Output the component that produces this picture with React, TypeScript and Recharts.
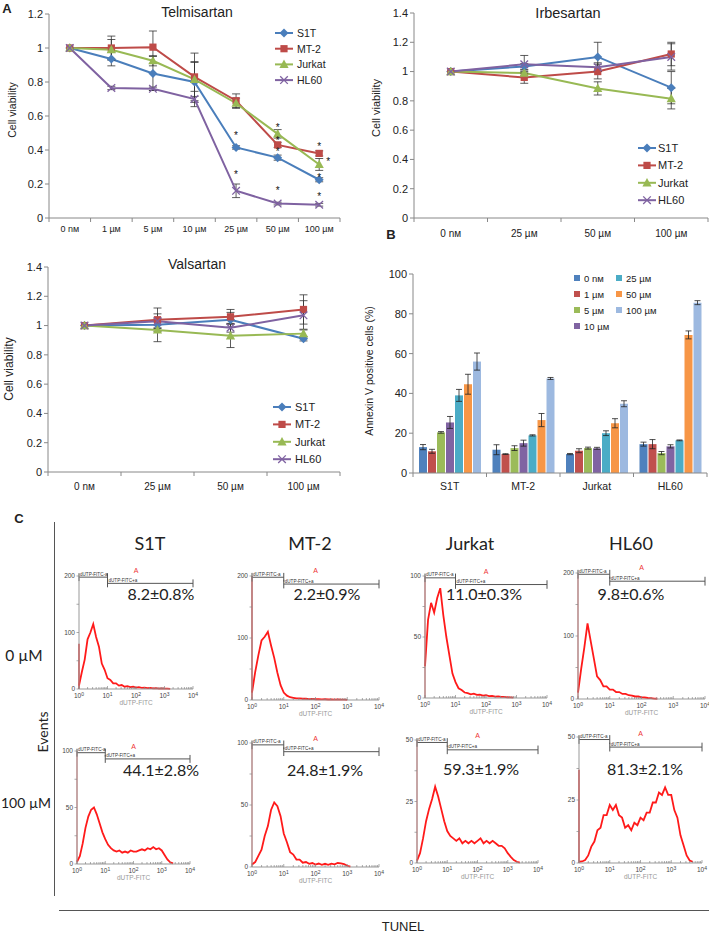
import React from "react";
import { ComposedChart, Line, Bar, XAxis, YAxis, ErrorBar, Scatter, ReferenceLine } from "recharts";

const ARIAL = "'Liberation Sans', Arial, sans-serif";
const LATO = "Lato, 'Open Sans', sans-serif";

// ---------- A: cell viability (fraction of control)
const telmiDoses = ["0 nм", "1 µм", "5 µм", "10 µм", "25 µм", "50 µм", "100 µм"];
const telmiS1T = [1, 0.935, 0.85, 0.8, 0.415, 0.355, 0.225];
const telmiMT2 = [1, 1.0, 1.005, 0.83, 0.69, 0.43, 0.38];
const telmiJurkat = [1, 0.99, 0.925, 0.815, 0.675, 0.495, 0.315];
const telmiHL60 = [1, 0.765, 0.76, 0.7, 0.16, 0.085, 0.078];
const telmiS1TErr = [0, 0.04, 0.1, 0.12, 0.01, 0.015, 0.012];
const telmiMT2Err = [0, 0.07, 0.095, 0.14, 0.04, 0.015, 0.015];
const telmiJurkatErr = [0, 0.06, 0.03, 0.1, 0.03, 0.025, 0.035];
const telmiHL60Err = [0, 0.01, 0.01, 0.045, 0.04, 0.008, 0.008];
// significance marks (*), one column per stack position
const telmiStarA = [null, null, null, null, 0.496, 0.543, 0.427];
const telmiStarB = [null, null, null, null, 0.265, 0.465, 0.25];
const telmiStarC = [null, null, null, null, null, 0.4, 0.137];
const telmiStarD = [null, null, null, null, null, 0.17, null];
const telmiStarSide = [null, null, null, null, null, null, 0.343];

const irbeDoses = ["0 nм", "25 µм", "50 µм", "100 µм"];
const irbeS1T = [1, 1.035, 1.1, 0.89];
const irbeMT2 = [1, 0.96, 1.0, 1.12];
const irbeJurkat = [1, 0.99, 0.885, 0.815];
const irbeHL60 = [1, 1.05, 1.03, 1.1];
const irbeS1TErr = [0, 0.02, 0.1, 0.11];
const irbeMT2Err = [0, 0.04, 0.05, 0.08];
const irbeJurkatErr = [0, 0.02, 0.045, 0.07];
const irbeHL60Err = [0, 0.06, 0.03, 0.09];

const valsDoses = ["0 nм", "25 µм", "50 µм", "100 µм"];
const valsS1T = [1, 1.005, 1.04, 0.91];
const valsMT2 = [1, 1.04, 1.06, 1.11];
const valsJurkat = [1, 0.97, 0.93, 0.945];
const valsHL60 = [1, 1.03, 0.985, 1.07];
const valsS1TErr = [0, 0.02, 0.05, 0.015];
const valsMT2Err = [0, 0.08, 0.05, 0.1];
const valsJurkatErr = [0, 0.08, 0.08, 0.03];
const valsHL60Err = [0, 0.05, 0.03, 0.1];

const viaTicks12 = [0, 0.2, 0.4, 0.6, 0.8, 1, 1.2];
const viaTicks14 = [0, 0.2, 0.4, 0.6, 0.8, 1, 1.2, 1.4];

// ---------- B: Annexin V positive cells (%)
const cellLines = ["S1T", "MT-2", "Jurkat", "HL60"];
const annex0 = [13, 11.7, 9.5, 14.5];
const annex1 = [10.9, 9.5, 11.2, 14.5];
const annex5 = [20.4, 12.5, 12.5, 10];
const annex10 = [25.4, 15, 12.4, 13.4];
const annex25 = [39, 18.9, 20, 16.4];
const annex50 = [44.6, 26.6, 25, 69.4];
const annex100 = [56, 47.5, 34.8, 85.6];
const annex0Err = [1.3, 2.5, 0.3, 1];
const annex1Err = [1, 0.2, 1, 2.3];
const annex5Err = [0.4, 1.2, 0.5, 0.8];
const annex10Err = [3, 1.5, 0.5, 0.8];
const annex25Err = [3, 0.3, 1.2, 0.2];
const annex50Err = [5, 3.3, 2.3, 2];
const annex100Err = [4.3, 0.5, 1.5, 1];
const annexTicks = [0, 20, 40, 60, 80, 100];

// ---------- C: TUNEL histograms (events vs log10 dUTP-FITC)
const histX = [0, 0.1, 0.2, 0.3, 0.4, 0.5, 0.6, 0.7, 0.8, 0.9, 1, 1.1, 1.2, 1.3, 1.4, 1.5, 1.6, 1.7, 1.8, 1.9, 2,
  2.1, 2.2, 2.3, 2.4, 2.5, 2.6, 2.7, 2.8, 2.9, 3, 3.1, 3.2, 3.3, 3.4, 3.5, 3.6, 3.7, 3.8, 3.9, 4];
const s1t0 = [6, 30, 52, 88, 100, 115, 92, 75, 45, 34, 19, 16, 10, 10, 6, 7, 4, 5, 3.5, 4, 2.5, 3.2, 2, 2.5, 1.5, 2, 1.2, 1.5, 0.8, 1.1, 0.6, 0.7, 0.3];
const mt20 = [12, 45, 72, 96, 102, 110, 88, 68, 44, 24, 12, 7, 4.5, 3.5, 2.5, 2.5, 2, 2, 1.5, 1.8, 1.2, 1.5, 1, 1.2, 0.8, 1, 0.7, 0.8, 0.5, 0.6, 0.3];
const jurkat0 = [26, 64, 78, 70, 82, 90, 68, 50, 35, 20, 13, 8, 6.5, 4.5, 4, 3, 3.5, 2.5, 2.8, 2, 2.3, 1.6, 1.8, 1.2, 1.4, 0.9, 1, 0.6, 0.5, 0.3];
const hl600 = [10, 48, 82, 120, 92, 64, 36, 30, 20, 20, 15, 15, 11, 11, 8, 8, 6, 5.5, 4, 4, 2.6, 2.4, 1.6, 1.4, 0.7, 0.4];
const s1t100 = [2, 7, 18, 32, 42, 48, 50, 44, 36, 28, 22, 17, 14, 12, 11, 12, 10, 11, 10, 12, 11, 11, 12, 13, 12, 14, 13, 15, 13, 14, 12, 8, 4, 1.5, 0.5];
const mt2100 = [2, 4, 9, 14, 25, 33, 46, 52, 49, 41, 27, 20, 12, 10, 6, 6, 3.5, 4, 2.5, 3.2, 2, 2.8, 1.8, 2.6, 1.8, 2.7, 2.2, 3.2, 3, 2.4, 1, 0.3];
const jurkat100 = [1, 4, 10, 17, 22, 26, 31, 27, 22, 17, 13, 11, 10, 9, 10, 8, 9, 8, 9, 8, 9, 10, 8, 9, 8, 9, 8, 7, 7, 6, 4, 2.5, 1.2, 0.5, 0.2];
const hl60100 = [0.5, 0.6, 1.2, 3, 6.5, 8.5, 13, 14, 19, 19, 23, 21, 23, 19, 18, 14, 15, 13, 16, 15, 18, 17, 20, 20, 24, 24, 28, 27, 30, 27, 27, 21, 18, 11, 7, 3, 1, 0.5];
const yTicks200 = [0, 50, 100, 150, 200];
const yTicks100 = [0, 25, 50, 75, 100];
const yTicks50 = [0, 12.5, 25, 37.5, 50];
// gate levels [dUTP-FITC-a, dUTP-FITC+a]
const gates200 = [198, 187];
const gates100 = [98.5, 93];
const gates50 = [49, 46];
const pctLabels = ["8.2±0.8%", "2.2±0.9%", "11.0±0.3%", "9.8±0.6%", "44.1±2.8%", "24.8±1.9%", "59.3±1.9%", "81.3±2.1%"];

const histTicks: number[] = [];
for (let d = 0; d < 4; d++) for (let k = 1; k < 10; k++) histTicks.push(d + Math.log10(k));
histTicks.push(4);

const seriesStyle = [
  { key: "S1T", name: "S1T", color: "#4a7ebb", mark: "diamond" },
  { key: "MT2", name: "MT-2", color: "#be4b48", mark: "square" },
  { key: "Jurkat", name: "Jurkat", color: "#98b954", mark: "triangle" },
  { key: "HL60", name: "HL60", color: "#7f62a1", mark: "cross" },
];
const barStyle = [
  { key: "c0", color: "#4f81bd" },
  { key: "c1", color: "#c0504d" },
  { key: "c5", color: "#9bbb59" },
  { key: "c10", color: "#8064a2" },
  { key: "c25", color: "#4bacc6" },
  { key: "c50", color: "#f79646" },
  { key: "c100", color: "#9db9e0" },
];

function Mark({ cx, cy, kind, color, s = 1 }: any) {
  if (cx == null || cy == null || isNaN(cy)) return <g />;
  if (kind === "diamond")
    return <polygon points={`${cx},${cy - 4.5 * s} ${cx + 4.5 * s},${cy} ${cx},${cy + 4.5 * s} ${cx - 4.5 * s},${cy}`} fill={color} />;
  if (kind === "square") return <rect x={cx - 3.6 * s} y={cy - 3.6 * s} width={7.2 * s} height={7.2 * s} fill={color} />;
  if (kind === "triangle")
    return <polygon points={`${cx},${cy - 4.8 * s} ${cx + 4.6 * s},${cy + 3.6 * s} ${cx - 4.6 * s},${cy + 3.6 * s}`} fill={color} />;
  const r = 3.8 * s;
  return (
    <g stroke={color} strokeWidth={1.3}>
      <line x1={cx - r} y1={cy - r} x2={cx + r} y2={cy + r} />
      <line x1={cx - r} y1={cy + r} x2={cx + r} y2={cy - r} />
    </g>
  );
}

function BandTick(p: any) {
  const { x, y, payload, index, bw, n, fontSize, gap } = p;
  return (
    <g>
      <line x1={x - bw / 2} x2={x - bw / 2} y1={y} y2={y + 4} stroke="#888" />
      {index === n - 1 ? <line x1={x + bw / 2} x2={x + bw / 2} y1={y} y2={y + 4} stroke="#888" /> : null}
      <text x={x} y={y + gap} textAnchor="middle" dominantBaseline="central" fontSize={fontSize} fill="#222">
        {payload.value}
      </text>
    </g>
  );
}

function Txt({ x, y, size, children, font = ARIAL, weight = 400, color = "#222", rotate = false }: any) {
  return (
    <div
      style={{
        position: "absolute", left: x, top: y, whiteSpace: "nowrap", lineHeight: 1,
        transform: `translate(-50%,-50%)${rotate ? " rotate(-90deg)" : ""}`,
        fontSize: size, fontFamily: font, fontWeight: weight, color,
      }}
    >
      {children}
    </div>
  );
}

function LineLegend({ x, y, step, font, gap }: any) {
  return (
    <svg style={{ position: "absolute", left: x, top: y }} width={80} height={step * 4 + 10}>
      {seriesStyle.map((s, i) => {
        const cy = 6 + i * step;
        return (
          <g key={s.key}>
            <line x1={0} x2={18} y1={cy} y2={cy} stroke={s.color} strokeWidth={2} />
            <Mark cx={9} cy={cy} kind={s.mark} color={s.color} />
            <text x={gap} y={cy} dominantBaseline="central" fontSize={font} fill="#222">{s.name}</text>
          </g>
        );
      })}
    </svg>
  );
}

const ML = 16, YW = 33, MTOP = 10, XH = 22, MR = 2;

function Viability({ left, top, width, height, doses, vals, errs, yTicks, xFont, gap, stars }: any) {
  const n = doses.length;
  const bw = (width - ML - YW - MR) / n;
  const rows = doses.map((d: string, i: number) => {
    const r: any = { dose: d };
    seriesStyle.forEach((s, k) => {
      r[s.key] = vals[k][i];
      r[s.key + "_e"] = errs[k][i];
    });
    (stars || []).forEach((col: any[], k: number) => { r["star" + k] = col[i]; });
    return r;
  });
  return (
    <div style={{ position: "absolute", left, top }}>
      <ComposedChart width={width} height={height} data={rows} margin={{ top: MTOP, right: MR, left: ML, bottom: 0 }}>
        <XAxis dataKey="dose" scale="band" height={XH} interval={0} tickSize={0} tickMargin={0} tickLine={false} stroke="#888"
          tick={(p: any) => <BandTick {...p} bw={bw} n={n} fontSize={xFont} gap={gap} />} />
        <YAxis type="number" domain={[0, yTicks[yTicks.length - 1]]} ticks={yTicks} interval={0} width={YW} tickSize={4}
          stroke="#888" tick={{ fontSize: 11, fill: "#222" }} />
        {seriesStyle.map((s) => (
          <Line key={s.key} dataKey={s.key} stroke={s.color} strokeWidth={2} isAnimationActive={false} activeDot={false}
            dot={(p: any) => <Mark key={`${s.key}-${p.index}`} cx={p.cx} cy={p.cy} kind={s.mark} color={s.color} />}>
            <ErrorBar dataKey={s.key + "_e"} width={4} stroke="#333" strokeWidth={0.8} direction="y" />
          </Line>
        ))}
        {(stars || []).map((col: any[], k: number) => (
          <Line key={"star" + k} dataKey={"star" + k} stroke="none" isAnimationActive={false} activeDot={false}
            dot={(p: any) => p.payload["star" + k] == null ? <g key={`st${k}-${p.index}`} /> : (
              <text key={`st${k}-${p.index}`} x={p.cx + (k === 4 ? 9 : 0)} y={p.cy + 5} textAnchor="middle" fontSize={10} fill="#111">*</text>
            )} />
        ))}
      </ComposedChart>
    </div>
  );
}

function Annexin() {
  const vals = [annex0, annex1, annex5, annex10, annex25, annex50, annex100];
  const errs = [annex0Err, annex1Err, annex5Err, annex10Err, annex25Err, annex50Err, annex100Err];
  const rows = cellLines.map((c, i) => {
    const r: any = { line: c };
    barStyle.forEach((b, k) => { r[b.key] = vals[k][i]; r[b.key + "_e"] = errs[k][i]; });
    return r;
  });
  const width = 345, height = 231;
  const bw = (width - ML - YW - MR) / cellLines.length;
  return (
    <div style={{ position: "absolute", left: 364, top: 264 }}>
      <ComposedChart width={width} height={height} data={rows} margin={{ top: MTOP, right: MR, left: ML, bottom: 0 }} barGap={1}>
        <XAxis dataKey="line" height={XH} interval={0} tickSize={0} tickMargin={0} tickLine={false} stroke="#888"
          tick={(p: any) => <BandTick {...p} bw={bw} n={cellLines.length} fontSize={10.5} gap={13} />} />
        <YAxis type="number" domain={[0, 100]} ticks={annexTicks} interval={0} width={YW} tickSize={4} stroke="#888"
          tick={{ fontSize: 11, fill: "#222" }} />
        {barStyle.map((b) => (
          <Bar key={b.key} dataKey={b.key} fill={b.color} barSize={8} isAnimationActive={false}>
            <ErrorBar dataKey={b.key + "_e"} width={3} stroke="#222" strokeWidth={0.8} direction="y" />
          </Bar>
        ))}
      </ComposedChart>
    </div>
  );
}

function HistXTick(p: any) {
  const { x, y, payload } = p;
  const v = payload.value;
  const major = Math.abs(v - Math.round(v)) < 1e-6;
  return (
    <g>
      <line x1={x} x2={x} y1={y - (major ? 3 : 2)} y2={y} stroke="#888" strokeWidth={0.7} />
      {major ? (
        <text x={x} y={y + 9} textAnchor="middle" fontSize={6.5} fill="#444">
          10<tspan dy={-2.5} fontSize={5}>{Math.round(v)}</tspan>
        </text>
      ) : null}
      {major && Math.round(v) === 2 ? (
        <text x={x} y={y + 15.5} textAnchor="middle" fontSize={6.5} fill="#999">dUTP-FITC</text>
      ) : null}
    </g>
  );
}

function HistYTick(p: any) {
  const { x, y, payload, ymax } = p;
  const v = payload.value;
  const lab = v === 0 || v === ymax || v === ymax / 2;
  return (
    <g>
      <line x1={x} x2={x - 2.5} y1={y} y2={y} stroke="#888" strokeWidth={0.7} />
      {lab ? <text x={x - 4} y={y + 2.2} textAnchor="end" fontSize={6.5} fill="#444">{v}</text> : null}
    </g>
  );
}

function NoteShape(p: any) {
  const { cx, cy, payload } = p;
  if (payload.t === "A")
    return <text x={cx} y={cy - 4} textAnchor="middle" fontSize={7} fill="#e33">A</text>;
  return <text x={cx + 1} y={cy - 1.5} fontSize={4.6} fill="#333">{payload.t}</text>;
}

function Hist({ box, counts, yTicks, gates, spike, spikeColor }: any) {
  const ymax = yTicks[yTicks.length - 1];
  const W0 = 20, T0 = 20, R0 = 6, B0 = 24;
  const width = W0 + (box.x4 - box.x0) + R0;
  const height = T0 + (box.yBot - box.yTop) + B0;
  const rows = counts.map((c: number, i: number) => ({ x: histX[i], y: c }));
  const d = ymax * 0.035;
  const notes = [
    { x: 0, y: gates[0], t: "dUTP-FITC-a" },
    { x: 1, y: gates[1], t: "dUTP-FITC+a" },
    { x: 2, y: gates[0], t: "A" },
  ];
  const seg = (x1: number, y1: number, x2: number, y2: number, stroke: string, sw = 1) => (
    <ReferenceLine key={`${x1}-${y1}-${x2}-${y2}`} segment={[{ x: x1, y: y1 }, { x: x2, y: y2 }]} stroke={stroke}
      strokeWidth={sw} ifOverflow="visible" />
  );
  return (
    <div style={{ position: "absolute", left: box.x0 - W0, top: box.yTop - T0 }}>
      <ComposedChart width={width} height={height} data={rows} margin={{ top: T0, right: R0, left: 0, bottom: 0 }}>
        <XAxis dataKey="x" type="number" domain={[0, 4]} ticks={histTicks} interval={0} height={B0} tickSize={0}
          tickMargin={0} tickLine={false} stroke="#999" tick={(q: any) => <HistXTick {...q} />} />
        <YAxis type="number" domain={[0, ymax]} ticks={yTicks} interval={0} width={W0} tickSize={0} tickMargin={0}
          tickLine={false} stroke="#999" tick={(q: any) => <HistYTick {...q} ymax={ymax} />} />
        {seg(0, 0, 0, spike, spikeColor, 1.6)}
        <Line dataKey="y" stroke="#ff1a1a" strokeWidth={1.8} dot={false} activeDot={false} isAnimationActive={false} />
        {seg(0, gates[0], 1, gates[0], "#555")}
        {seg(0, gates[0] - d, 0, gates[0] + d, "#555")}
        {seg(1, gates[0] - d, 1, gates[0] + d, "#555")}
        {seg(1, gates[1], 4, gates[1], "#555")}
        {seg(1, gates[1] - d, 1, gates[1] + d, "#555")}
        {seg(4, gates[1] - d, 4, gates[1] + d, "#555")}
        <Scatter data={notes} dataKey="y" shape={NoteShape} isAnimationActive={false} />
      </ComposedChart>
    </div>
  );
}

const histPanels = [
  { box: { x0: 79, x4: 193, yTop: 576, yBot: 689 }, counts: s1t0, yTicks: yTicks200, gates: gates200, spike: 80, spikeColor: "#e53a3a", pct: [161, 594] },
  { box: { x0: 252, x4: 379, yTop: 576, yBot: 700 }, counts: mt20, yTicks: yTicks200, gates: gates200, spike: 200, spikeColor: "#e85050", pct: [327, 594] },
  { box: { x0: 425, x4: 547, yTop: 576, yBot: 698 }, counts: jurkat0, yTicks: yTicks100, gates: gates100, spike: 100, spikeColor: "#f08c8c", pct: [484, 594] },
  { box: { x0: 578, x4: 705, yTop: 573, yBot: 699 }, counts: hl600, yTicks: yTicks200, gates: gates200, spike: 200, spikeColor: "#f09a9a", pct: [631, 594] },
  { box: { x0: 77, x4: 190, yTop: 751, yBot: 864 }, counts: s1t100, yTicks: yTicks100, gates: gates100, spike: 100, spikeColor: "#f0a0a0", pct: [161, 770] },
  { box: { x0: 252, x4: 379, yTop: 743, yBot: 867 }, counts: mt2100, yTicks: yTicks100, gates: gates100, spike: 100, spikeColor: "#f0a0a0", pct: [325, 770] },
  { box: { x0: 417, x4: 538, yTop: 740, yBot: 863 }, counts: jurkat100, yTicks: yTicks50, gates: gates50, spike: 50, spikeColor: "#f0a0a0", pct: [481, 769] },
  { box: { x0: 579, x4: 702, yTop: 737, yBot: 863 }, counts: hl60100, yTicks: yTicks50, gates: gates50, spike: 37, spikeColor: "#e53a3a", pct: [645, 769] },
];

export default function App() {
  return (
    <div style={{ position: "absolute", left: 0, top: 0, width: 709, height: 935, background: "#fff", fontFamily: ARIAL, overflow: "hidden" }}>
      {/* A */}
      <Txt x={7} y={8} size={13} weight={700}>A</Txt>
      <Viability left={0} top={4} width={342} height={236} doses={telmiDoses}
        vals={[telmiS1T, telmiMT2, telmiJurkat, telmiHL60]} errs={[telmiS1TErr, telmiMT2Err, telmiJurkatErr, telmiHL60Err]}
        yTicks={viaTicks12} xFont={9} gap={11} stars={[telmiStarA, telmiStarB, telmiStarC, telmiStarD, telmiStarSide]} />
      <Txt x={197} y={12} size={14}>Telmisartan</Txt>
      <Txt x={12} y={110} size={10.5} rotate>Cell viability</Txt>
      <LineLegend x={275} y={27} step={15.7} font={10.5} gap={22} />

      <Viability left={365} top={3} width={345} height={237} doses={irbeDoses}
        vals={[irbeS1T, irbeMT2, irbeJurkat, irbeHL60]} errs={[irbeS1TErr, irbeMT2Err, irbeJurkatErr, irbeHL60Err]}
        yTicks={viaTicks14} xFont={10} gap={15} />
      <Txt x={568} y={13} size={14.5}>Irbesartan</Txt>
      <Txt x={376} y={108} size={11} rotate>Cell viability</Txt>
      <LineLegend x={638} y={142} step={17.4} font={11} gap={20} />

      <Viability left={-1} top={257} width={343} height={237} doses={valsDoses}
        vals={[valsS1T, valsMT2, valsJurkat, valsHL60]} errs={[valsS1TErr, valsMT2Err, valsJurkatErr, valsHL60Err]}
        yTicks={viaTicks14} xFont={10} gap={14} />
      <Txt x={197} y={264} size={14}>Valsartan</Txt>
      <Txt x={9} y={369} size={12} rotate>Cell viability</Txt>
      <LineLegend x={273} y={401} step={17.4} font={11} gap={22} />

      {/* B */}
      <Txt x={391} y={234} size={13} weight={700}>B</Txt>
      <Annexin />
      <Txt x={369} y={371} size={10.5} rotate>Annexin V positive cells (%)</Txt>
      <svg style={{ position: "absolute", left: 572, top: 270 }} width={100} height={66}>
        {barStyle.map((b, i) => {
          const col = i < 4 ? 0 : 1;
          const row = i < 4 ? i : i - 4;
          const cx = col * 42;
          const cy = 8 + row * 16;
          return (
            <g key={b.key}>
              <rect x={cx + 2} y={cy - 3} width={6} height={6} fill={b.color} />
              <text x={cx + 12} y={cy} dominantBaseline="central" fontSize={9.5} fill="#222">{telmiDoses[i]}</text>
            </g>
          );
        })}
      </svg>

      {/* C */}
      <Txt x={19} y={518} size={13} weight={700}>C</Txt>
      <div style={{ position: "absolute", left: 54, top: 522, width: 1, height: 374, background: "#555" }} />
      <div style={{ position: "absolute", left: 59, top: 910, width: 650, height: 1, background: "#555" }} />
      <Txt x={403} y={926} size={13}>TUNEL</Txt>
      <Txt x={43} y={732} size={14} font={LATO} rotate>Events</Txt>
      <Txt x={24} y={656} size={15.5} font={LATO}>0 µM</Txt>
      <Txt x={26} y={803} size={14} font={LATO}>100 µM</Txt>
      <Txt x={150} y={543} size={18} font={LATO}>S1T</Txt>
      <Txt x={310} y={543} size={18} font={LATO}>MT-2</Txt>
      <Txt x={470} y={543} size={18} font={LATO}>Jurkat</Txt>
      <Txt x={631} y={543} size={18} font={LATO}>HL60</Txt>
      {histPanels.map((h, i) => (
        <React.Fragment key={i}>
          <Hist box={h.box} counts={h.counts} yTicks={h.yTicks} gates={h.gates} spike={h.spike} spikeColor={h.spikeColor} />
          <Txt x={h.pct[0]} y={h.pct[1]} size={16} font={LATO}>{pctLabels[i]}</Txt>
        </React.Fragment>
      ))}
    </div>
  );
}
